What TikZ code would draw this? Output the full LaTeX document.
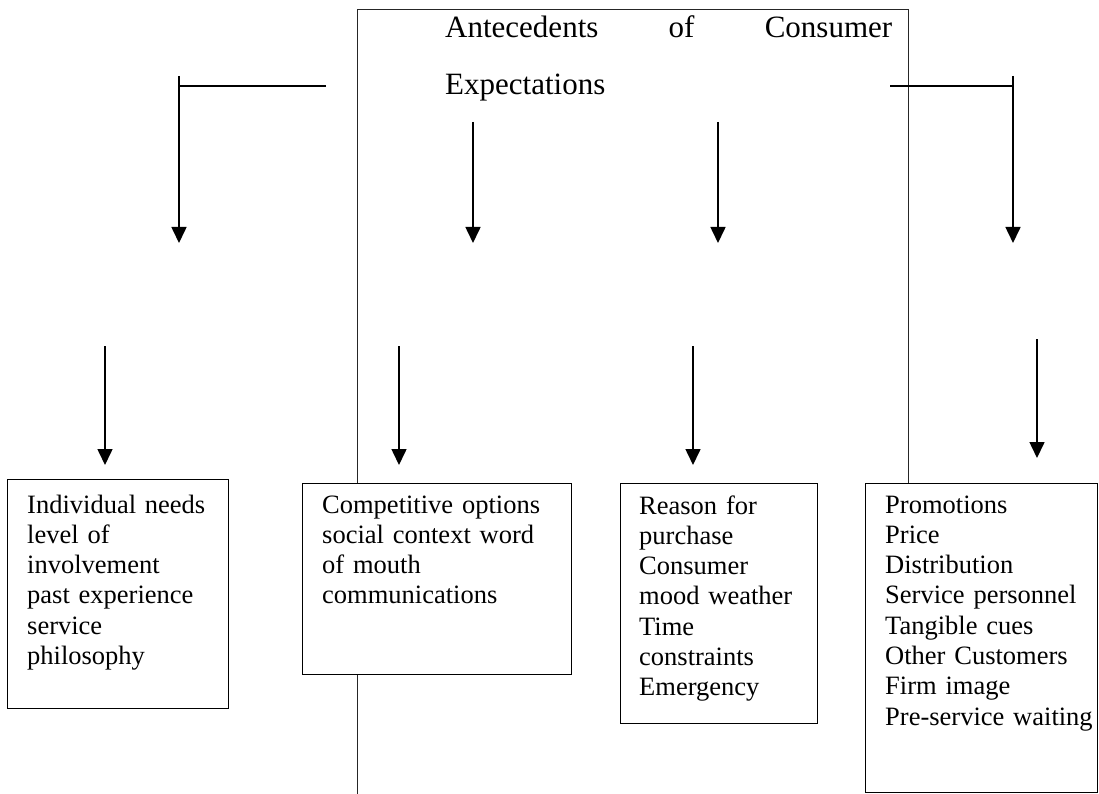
\documentclass[tikz,border=0pt]{standalone}
\usepackage{fontspec}
\setmainfont{Liberation Serif}
\usetikzlibrary{arrows.meta}
\begin{document}
\begin{tikzpicture}[x=1pt,y=-1pt,
  frameline/.style={draw=black!85, line width=1pt},
  boxline/.style={draw=black, line width=1.3pt, fill=white, inner sep=0pt, anchor=north west},
  flow/.style={line width=1.6pt, -{Triangle[width=15pt,length=16pt]}},
  link/.style={line width=1.3pt},
  body/.style={inner sep=0pt, anchor=base west, text width=#1, align=left,
               font=\fontsize{26.5}{30.3}\selectfont},
  heading/.style={inner sep=0pt, anchor=base west, text width=447pt, align=left,
               font=\fontsize{31}{57}\selectfont},
]
\useasboundingbox (0,0) rectangle (1099,794);

% outer frame around the heading
\draw[frameline] (357,794) -- (357,9.5) -- (908,9.5) -- (908,483);

% heading, first line spread across the full width
\node[heading] (title) at (445,37.5)
  {\makebox[447pt][s]{Antecedents\hfill of\hfill Consumer}\\Expectations};

% branch points and arrow ends
\coordinate (hl) at (326,86);   \coordinate (hlc) at (179,86);
\coordinate (hr) at (890,86);   \coordinate (hrc) at (1013,86);
\coordinate (a1s) at (179,76);  \coordinate (a1e) at (179,243);
\coordinate (a2s) at (473,122); \coordinate (a2e) at (473,243);
\coordinate (a3s) at (718,122); \coordinate (a3e) at (718,243);
\coordinate (a4s) at (1013,76); \coordinate (a4e) at (1013,243);
\coordinate (b1s) at (105,346); \coordinate (b1e) at (105,465);
\coordinate (b2s) at (399,346); \coordinate (b2e) at (399,465);
\coordinate (b3s) at (693,346); \coordinate (b3e) at (693,465);
\coordinate (b4s) at (1037,339);\coordinate (b4e) at (1037,458);

% upper arrows
\draw[link] (hl) -- (hlc);
\draw[link] (hr) -- (hrc);
\draw[flow] (a1s) -- (a1e);
\draw[flow] (a2s) -- (a2e);
\draw[flow] (a3s) -- (a3e);
\draw[flow] (a4s) -- (a4e);

% lower arrows
\draw[flow] (b1s) -- (b1e);
\draw[flow] (b2s) -- (b2e);
\draw[flow] (b3s) -- (b3e);
\draw[flow] (b4s) -- (b4e);

% antecedent boxes
\node[boxline, minimum width=221pt, minimum height=229pt] (box1) at (7,479) {};
\node[boxline, minimum width=269pt, minimum height=191pt] (box2) at (302,483) {};
\node[boxline, minimum width=197pt, minimum height=240pt] (box3) at (620,483) {};
\node[boxline, minimum width=232pt, minimum height=309pt] (box4) at (865,483) {};

\node[body=200pt] (t1) at ([shift={(20,34)}]box1.north west)
  {Individual needs\\level of\\involvement\\past experience\\service\\philosophy};
\node[body=245pt] (t2) at ([shift={(20,30)}]box2.north west)
  {Competitive options\\social context word\\of mouth\\communications};
\node[body=175pt] (t3) at ([shift={(19,31)}]box3.north west)
  {Reason for\\purchase\\Consumer\\mood weather\\Time\\constraints\\Emergency};
\node[body=225pt] (t4) at ([shift={(20,30)}]box4.north west)
  {Promotions\\Price\\Distribution\\Service personnel\\Tangible cues\\Other Customers\\Firm image\\Pre-service waiting};
\end{tikzpicture}
\end{document}
